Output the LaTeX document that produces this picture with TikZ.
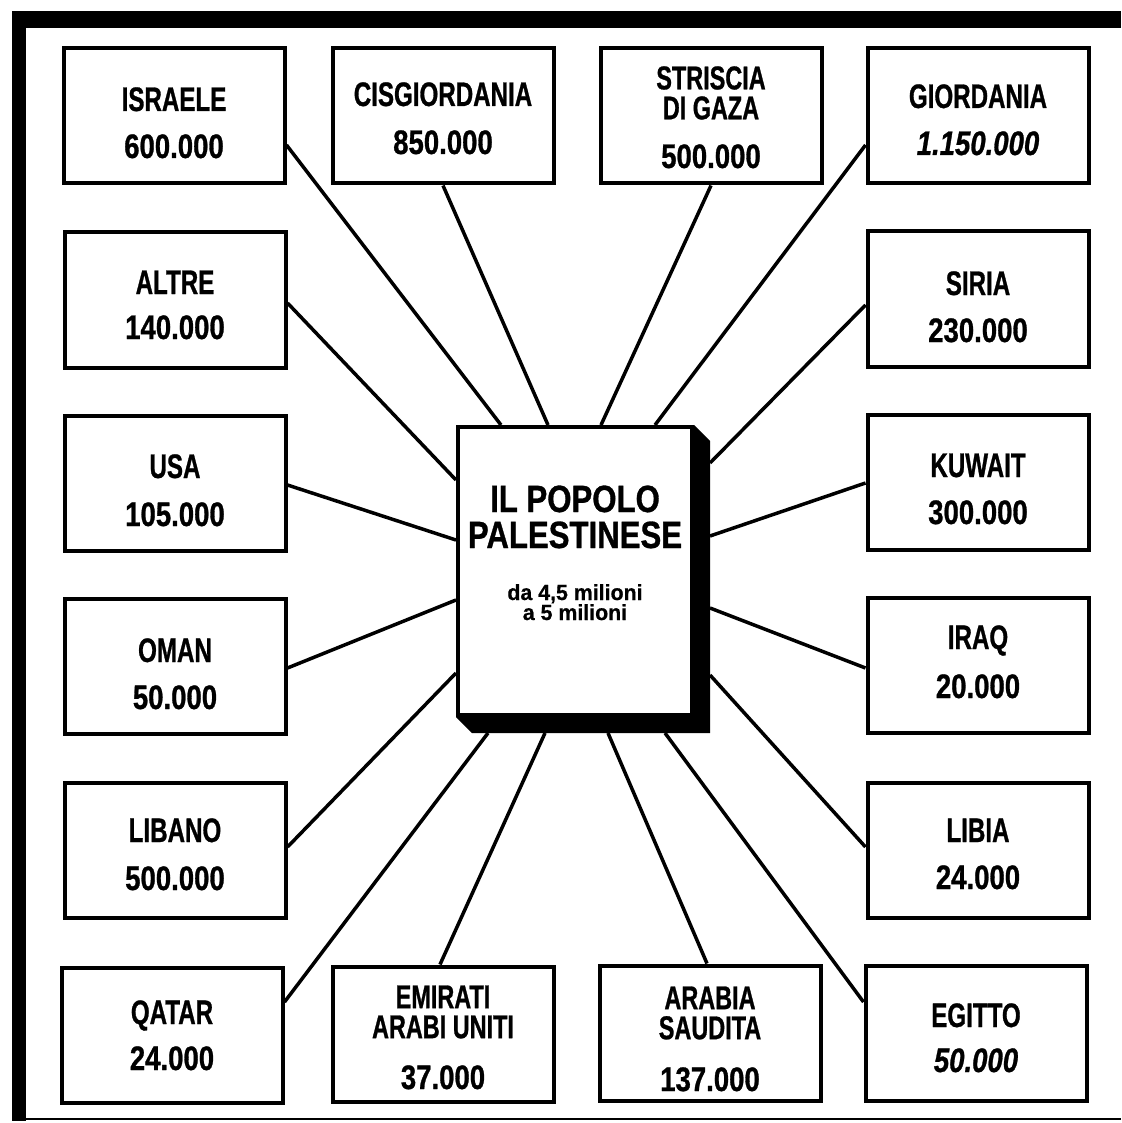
\documentclass[tikz,border=0pt]{standalone}
\usepackage{fontspec}
\setmainfont{Liberation Sans}
\newfontfamily\nmf{Liberation Sans}[FakeStretch=0.71,FakeBold=0.8]
\newfontfamily\numf{Liberation Sans}[FakeStretch=0.81,FakeBold=0.8]
\newfontfamily\ctf{Liberation Sans}[FakeStretch=0.82,FakeBold=0.8]
\newfontfamily\sbf{Liberation Sans}[FakeStretch=0.97,FakeBold=0.6]
\usetikzlibrary{calc}
\begin{document}
\begin{tikzpicture}[x=1pt,y=-1pt,
  cbox/.style={draw, line width=4pt, minimum width=221pt, minimum height=135pt, inner sep=0pt},
  nm/.style={font=\nmf\bfseries\fontsize{34}{30}\selectfont, anchor=base, inner sep=0pt, align=center},
  nmc/.style={font=\nmf\bfseries\fontsize{33}{30}\selectfont, anchor=center, inner sep=0pt, align=center},
  num/.style={font=\numf\bfseries\fontsize{34}{34}\selectfont, anchor=base, inner sep=0pt},
  numi/.style={font=\numf\bfseries\itshape\fontsize{34}{34}\selectfont, anchor=base, inner sep=0pt},
  ttl/.style={font=\ctf\bfseries\fontsize{38}{36}\selectfont, anchor=base, inner sep=0pt},
  sub/.style={font=\sbf\bfseries\fontsize{22}{20}\selectfont, anchor=base, inner sep=0pt},
  link/.style={line width=3.5pt},
  face/.style={draw, line width=4pt, fill=white, minimum width=234pt, minimum height=288pt, inner sep=0pt}]
\useasboundingbox (0,0) rectangle (1121,1123);
% outer frame
\fill (12,11) rectangle (1121,28);
\fill (12,11) rectangle (26,1121);
\draw[line width=2.5pt] (12,1119) -- (1121,1119);

% country boxes
\node[cbox] (isr) at (174,116) {};
\node[cbox] (cis) at (443,116) {};
\node[cbox] (gaz) at (711,116) {};
\node[cbox] (gio) at (978,116) {};
\node[cbox] (alt) at (175,300) {};
\node[cbox] (sir) at (978,299) {};
\node[cbox] (usa) at (175,483) {};
\node[cbox] (kuw) at (978,482) {};
\node[cbox] (oma) at (175,666) {};
\node[cbox] (irq) at (978,665) {};
\node[cbox] (lib) at (175,850) {};
\node[cbox] (lby) at (978,850) {};
\node[cbox] (qat) at (172,1035) {};
\node[cbox] (emi) at (443,1034) {};
\node[cbox] (ara) at (710,1033) {};
\node[cbox] (egi) at (976,1033) {};

% texts
\node[nm] (isrA) at (174,111) {ISRAELE};
\node[num] (isrB) at (174,158) {600.000};
\node[nm] (cisA) at (443,106) {CISGIORDANIA};
\node[num] (cisB) at (443,154) {850.000};
\node[nmc] (gazA) at (711,93) {STRISCIA\\DI GAZA};
\node[num] (gazC) at (711,168) {500.000};
\node[nm] (gioA) at (978,108) {GIORDANIA};
\node[numi] (gioB) at (978,155) {1.150.000};
\node[nm] (altA) at (175,294) {ALTRE};
\node[num] (altB) at (175,339) {140.000};
\node[nm] (sirA) at (978,295) {SIRIA};
\node[num] (sirB) at (978,342) {230.000};
\node[nm] (usaA) at (175,478) {USA};
\node[num] (usaB) at (175,526) {105.000};
\node[nm] (kuwA) at (978,477) {KUWAIT};
\node[num] (kuwB) at (978,524) {300.000};
\node[nm] (omaA) at (175,662) {OMAN};
\node[num] (omaB) at (175,709) {50.000};
\node[nm] (irqA) at (978,649) {IRAQ};
\node[num] (irqB) at (978,698) {20.000};
\node[nm] (libA) at (175,842) {LIBANO};
\node[num] (libB) at (175,890) {500.000};
\node[nm] (lbyA) at (978,842) {LIBIA};
\node[num] (lbyB) at (978,889) {24.000};
\node[nm] (qatA) at (172,1024) {QATAR};
\node[num] (qatB) at (172,1070) {24.000};
\node[nmc] (emiA) at (443,1012) {EMIRATI\\ARABI UNITI};
\node[num] (emiC) at (443,1089) {37.000};
\node[nmc] (araA) at (710,1013) {ARABIA\\SAUDITA};
\node[num] (araC) at (710,1091) {137.000};
\node[nm] (egiA) at (976,1027) {EGITTO};
\node[numi] (egiB) at (976,1072) {50.000};

% central block
\node[face] (pp) at (575,571) {};
\fill (pp.north east) -- ($(pp.north east)+(16,16)$) -- ($(pp.south east)+(16,16)$)
  -- ($(pp.south west)+(16,16)$) -- (pp.south west) -- cycle;
\node[face] (pp) at (575,571) {};
\node[ttl] (t1) at (575,512) {IL POPOLO};
\node[ttl] (t2) at (575,548) {PALESTINESE};
\node[sub] (t3) at (575,600) {da 4,5 milioni};
\node[sub] (t4) at (575,620) {a 5 milioni};

% connectors
\draw[link] ($(isr.east)+(0,29)$) -- ($(pp.north west)+(45,0)$);
\draw[link] (cis.south) -- ($(pp.north west)+(92,0)$);
\draw[link] (gaz.south) -- ($(pp.north west)+(145,0)$);
\draw[link] ($(gio.west)+(0,29)$) -- ($(pp.north west)+(199,0)$);
\draw[link] ($(alt.east)+(0,3)$) -- ($(pp.north west)+(0,55)$);
\draw[link] ($(sir.west)+(0,6)$) -- ($(pp.north east)+(16,38)$);
\draw[link] ($(usa.east)+(0,2)$) -- ($(pp.north west)+(0,115)$);
\draw[link] ($(kuw.west)+(0,1)$) -- ($(pp.north east)+(16,111)$);
\draw[link] ($(oma.east)+(0,2)$) -- ($(pp.north west)+(0,175)$);
\draw[link] ($(irq.west)+(0,3)$) -- ($(pp.north east)+(16,183)$);
\draw[link] ($(lib.east)+(0,-3)$) -- ($(pp.north west)+(0,248)$);
\draw[link] ($(lby.west)+(0,-3)$) -- ($(pp.north east)+(16,250)$);
\draw[link] ($(qat.east)+(0,-33)$) -- ($(pp.south west)+(32,16)$);
\draw[link] ($(emi.north)+(-3,0)$) -- ($(pp.south west)+(89,16)$);
\draw[link] ($(ara.north)+(-3,0)$) -- ($(pp.south west)+(152,16)$);
\draw[link] ($(egi.west)+(0,-31)$) -- ($(pp.south west)+(209,16)$);
\end{tikzpicture}
\end{document}
